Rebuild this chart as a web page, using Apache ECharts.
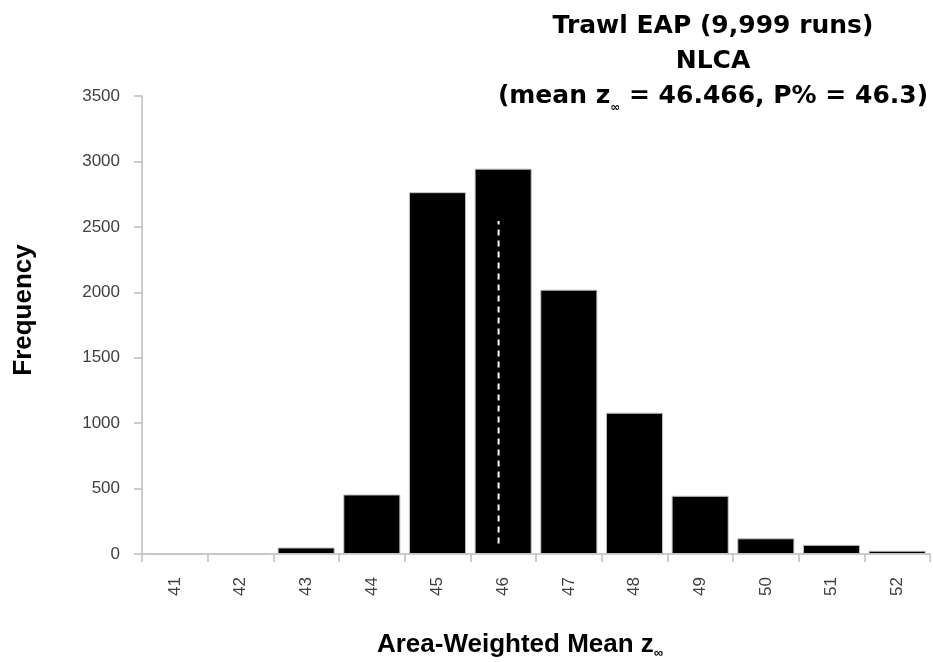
<!DOCTYPE html>
<html>
<head>
<meta charset="utf-8">
<script src="https://cdn.jsdelivr.net/npm/echarts@6/dist/echarts.min.js"></script>
<style>
  html, body { margin: 0; padding: 0; background: #fff; }
  #chart { width: 933px; height: 662px; }
</style>
</head>
<body>
<div id="chart"></div>
<script>
// histogram of area-weighted mean z-infinity
const bins = ['41', '42', '43', '44', '45', '46', '47', '48', '49', '50', '51', '52']
const freq = [0, 0, 50, 455, 2765, 2945, 2020, 1080, 445, 120, 70, 25]
const yTicks = { min: 0, max: 3500, step: 500 }
// dashed marker inside the 46 bar (x in bin units, y in frequency)
const meanLine = [[45.93, 80], [45.93, 2545]]

const font = 'Liberation Sans, Arial, sans-serif'
const wide = 'DejaVu Sans, Liberation Sans, sans-serif'
let chart = echarts.init(document.getElementById('chart'))

let option = {
    animation: false,
    title: {
        text: '{t|Trawl EAP (9,999 runs)}\n{t|NLCA}\n{t|(mean z}{s|∞}{t| = 46.466, P% = 46.3)}',
        left: 708,
        top: 4,
        textAlign: 'center',
        textStyle: {
            rich: {
                t: { fontFamily: wide, fontSize: 25, fontWeight: 'bold', color: '#000', lineHeight: 35 },
                s: { fontFamily: wide, fontSize: 12, fontWeight: 'bold', color: '#000', lineHeight: 14, verticalAlign: 'bottom' }
            }
        }
    },
    grid: {
        left: 142,
        right: 3,
        top: 96,
        bottom: 108,
        outerBoundsMode: 'none'
    },
    xAxis: [{
        type: 'category',
        data: bins,
        name: '{t|Area-Weighted Mean z}{s|∞}',
        nameLocation: 'middle',
        nameGap: 76,
        nameTextStyle: {
            padding: [0, 32, 0, 0],
            rich: {
                t: { fontFamily: font, fontSize: 26, fontWeight: 'bold', color: '#000', lineHeight: 30 },
                s: { fontFamily: font, fontSize: 13, fontWeight: 'bold', color: '#000', lineHeight: 14, verticalAlign: 'bottom' }
            }
        },
        axisLine: { lineStyle: { color: '#bdbdbd', width: 1.5 } },
        axisTick: { show: true, length: 8, alignWithLabel: false, lineStyle: { color: '#bdbdbd', width: 1.5 } },
        axisLabel: { rotate: 90, margin: 23, fontSize: 17, fontFamily: font, color: '#404040' },
        splitLine: { show: false }
    }, {
        type: 'value',
        min: 40.5,
        max: 52.5,
        show: false
    }],
    yAxis: {
        type: 'value',
        min: yTicks.min,
        max: yTicks.max,
        interval: yTicks.step,
        name: 'Frequency',
        nameLocation: 'middle',
        nameGap: 105,
        nameTextStyle: { fontFamily: font, fontSize: 26, fontWeight: 'bold', color: '#000', padding: [0, 0, 0, 30] },
        axisLine: { show: true, lineStyle: { color: '#bdbdbd', width: 1.5 } },
        axisTick: { show: true, length: 8, lineStyle: { color: '#bdbdbd', width: 1.5 } },
        axisLabel: { margin: 22, fontSize: 17, fontFamily: font, color: '#404040', formatter: v => String(v) },
        splitLine: { show: false }
    },
    series: [{
        name: 'Frequency',
        type: 'bar',
        data: freq,
        barCategoryGap: '13%',
        itemStyle: { color: '#000', borderColor: '#c4c4c4', borderWidth: 1 }
    }, {
        name: 'mean',
        type: 'line',
        xAxisIndex: 1,
        data: meanLine,
        symbol: 'none',
        z: 5,
        lineStyle: { color: '#fff', width: 2, type: [6, 5] }
    }]
}
chart.setOption(option)
</script>
</body>
</html>
